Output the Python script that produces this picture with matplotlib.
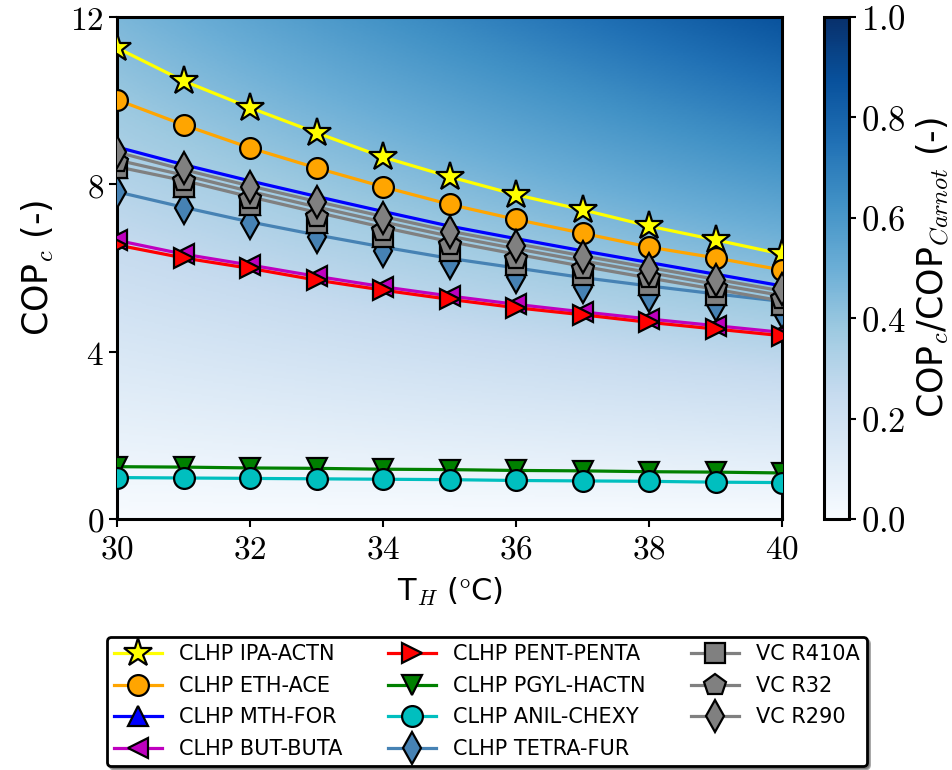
import numpy as np
import matplotlib
matplotlib.use('Agg')
import matplotlib.pyplot as plt
from matplotlib.ticker import FuncFormatter
from matplotlib.lines import Line2D

plt.rcParams['mathtext.fontset'] = 'cm'
plt.rcParams['font.family'] = 'DejaVu Sans'

# temperatura do dissipador (C) e tempertura fria usada no fundo COP/COP_Carnot
T_H = [30, 31, 32, 33, 34, 35, 36, 37, 38, 39, 40]
T_C = 18.8

ipa_actn = [11.26, 10.47, 9.83, 9.23, 8.65, 8.18, 7.75, 7.39, 7.00, 6.67, 6.33]
eth_ace = [10.02, 9.42, 8.87, 8.39, 7.94, 7.52, 7.16, 6.83, 6.50, 6.24, 5.95]
mth_for_line = [8.89, 8.47, 8.08, 7.71, 7.35, 7.00, 6.70, 6.41, 6.13, 5.85, 5.57]
mth_for_mark = [8.39, 7.94, 7.51, 7.08, 6.74, 6.40, 6.07, 5.83, 5.60, 5.36, 5.12]
but_buta = [6.66, 6.33, 6.07, 5.80, 5.55, 5.33, 5.13, 4.95, 4.78, 4.62, 4.46]
pent_penta = [6.55, 6.24, 5.99, 5.71, 5.47, 5.25, 5.05, 4.88, 4.70, 4.54, 4.38]
pgyl_hactn = [1.25, 1.24, 1.22, 1.21, 1.19, 1.18, 1.16, 1.15, 1.13, 1.12, 1.10]
anil_chexy = [0.99, 0.98, 0.97, 0.96, 0.95, 0.94, 0.92, 0.91, 0.90, 0.88, 0.87]
tetra_fur_line = [7.82, 7.45, 7.10, 6.79, 6.50, 6.23, 6.00, 5.77, 5.57, 5.38, 5.20]
tetra_fur_mark = [7.82, 7.43, 7.08, 6.74, 6.40, 6.11, 5.79, 5.55, 5.33, 5.12, 4.95]
r410a_line = [8.42, 8.09, 7.70, 7.33, 6.97, 6.63, 6.33, 6.04, 5.76, 5.49, 5.21]
r410a_mark = [8.39, 7.94, 7.51, 7.08, 6.74, 6.40, 6.07, 5.83, 5.60, 5.36, 5.12]
r32_line = [8.58, 8.22, 7.83, 7.46, 7.10, 6.76, 6.46, 6.17, 5.89, 5.61, 5.34]
r32_mark = [8.54, 8.09, 7.66, 7.23, 6.89, 6.55, 6.22, 5.98, 5.75, 5.51, 5.27]
r290_line = [8.77, 8.35, 7.96, 7.59, 7.23, 6.88, 6.58, 6.29, 6.01, 5.73, 5.45]
r290_mark = [8.77, 8.39, 7.94, 7.58, 7.20, 6.86, 6.52, 6.26, 5.98, 5.71, 5.50]

series = [
    ('CLHP IPA-ACTN', ipa_actn, ipa_actn, 'yellow', '*', 21),
    ('CLHP ETH-ACE', eth_ace, eth_ace, 'orange', 'o', 15),
    ('CLHP MTH-FOR', mth_for_line, mth_for_mark, 'blue', '^', 15),
    ('CLHP BUT-BUTA', but_buta, but_buta, 'm', '<', 15),
    ('CLHP PENT-PENTA', pent_penta, pent_penta, 'red', '>', 15),
    ('CLHP PGYL-HACTN', pgyl_hactn, pgyl_hactn, 'green', 'v', 15),
    ('CLHP ANIL-CHEXY', anil_chexy, anil_chexy, 'c', 'o', 15),
    ('CLHP TETRA-FUR', tetra_fur_line, tetra_fur_mark, 'steelblue', 'd', 16),
    ('VC R410A', r410a_line, r410a_mark, 'gray', 's', 15),
    ('VC R32', r32_line, r32_mark, 'gray', 'p', 16),
    ('VC R290', r290_line, r290_mark, 'gray', 'd', 16),
]

fig = plt.figure(figsize=(9.53, 7.70), dpi=100)
ax = fig.add_axes([0.1228, 0.326, 0.698, 0.652])

# fundo: COP_c / COP_Carnot
tt, cc = np.meshgrid(np.linspace(30, 40, 300), np.linspace(0, 12, 300))
cop_carnot = (T_C + 273.15) / (tt - T_C)
im = ax.imshow(cc / cop_carnot, origin='lower', extent=[30, 40, 0, 12],
               aspect='auto', cmap='Blues', vmin=0, vmax=1, zorder=0)

handles = []
for i, (nome, yl, ym, cor, mk, ms) in enumerate(series):
    ax.plot(T_H, yl, color=cor, lw=2.3, zorder=2 + i * 0.1)
    ax.plot(T_H, ym, ls='none', marker=mk, ms=ms, mfc=cor,
            mec='black', mew=1.6, zorder=3 + i * 0.1)
    handles.append(Line2D([], [], color=cor, lw=2.3, marker=mk, ms=ms,
                          mfc=cor, mec='black', mew=1.6, label=nome))

ax.set_xlim(30, 40)
ax.set_ylim(0, 12)
ax.set_xticks([30, 32, 34, 36, 38, 40])
ax.set_yticks([0, 4, 8, 12])
ax.xaxis.set_major_formatter(FuncFormatter(lambda v, p: f'${v:g}$'))
ax.yaxis.set_major_formatter(FuncFormatter(lambda v, p: f'${v:g}$'))
ax.tick_params(labelsize=24, width=1.5, length=6, direction='out')
for s in ax.spines.values():
    s.set_linewidth(2.2)
ax.set_xlabel('T$_H$ ($\\degree$C)', fontsize=22, labelpad=8)
ax.set_ylabel('COP$_c$ (-)', fontsize=25, labelpad=10)

cax = fig.add_axes([824 / 953, 1 - 519 / 770, 25 / 953, 502 / 770])
cb = fig.colorbar(im, cax=cax)
cb.set_ticks([0, 0.2, 0.4, 0.6, 0.8, 1.0])
cb.ax.yaxis.set_major_formatter(FuncFormatter(lambda v, p: f'${v:.1f}$'))
cb.ax.tick_params(labelsize=25, width=1.5, length=5)
cb.outline.set_linewidth(2.2)
cb.set_label('COP$_c$/COP$_{Carnot}$ (-)', fontsize=25, labelpad=6)

leg = fig.legend(handles=handles, loc='upper center', bbox_to_anchor=(0.511, 0.186),
                 ncol=3, fontsize=15, frameon=True, fancybox=True, shadow=True,
                 framealpha=1, edgecolor='black', handlelength=2.3,
                 handletextpad=0.8, labelspacing=0.55, columnspacing=2.2,
                 borderpad=0.35)
leg.get_frame().set_linewidth(2)

fig.savefig('out.png', dpi=100)
